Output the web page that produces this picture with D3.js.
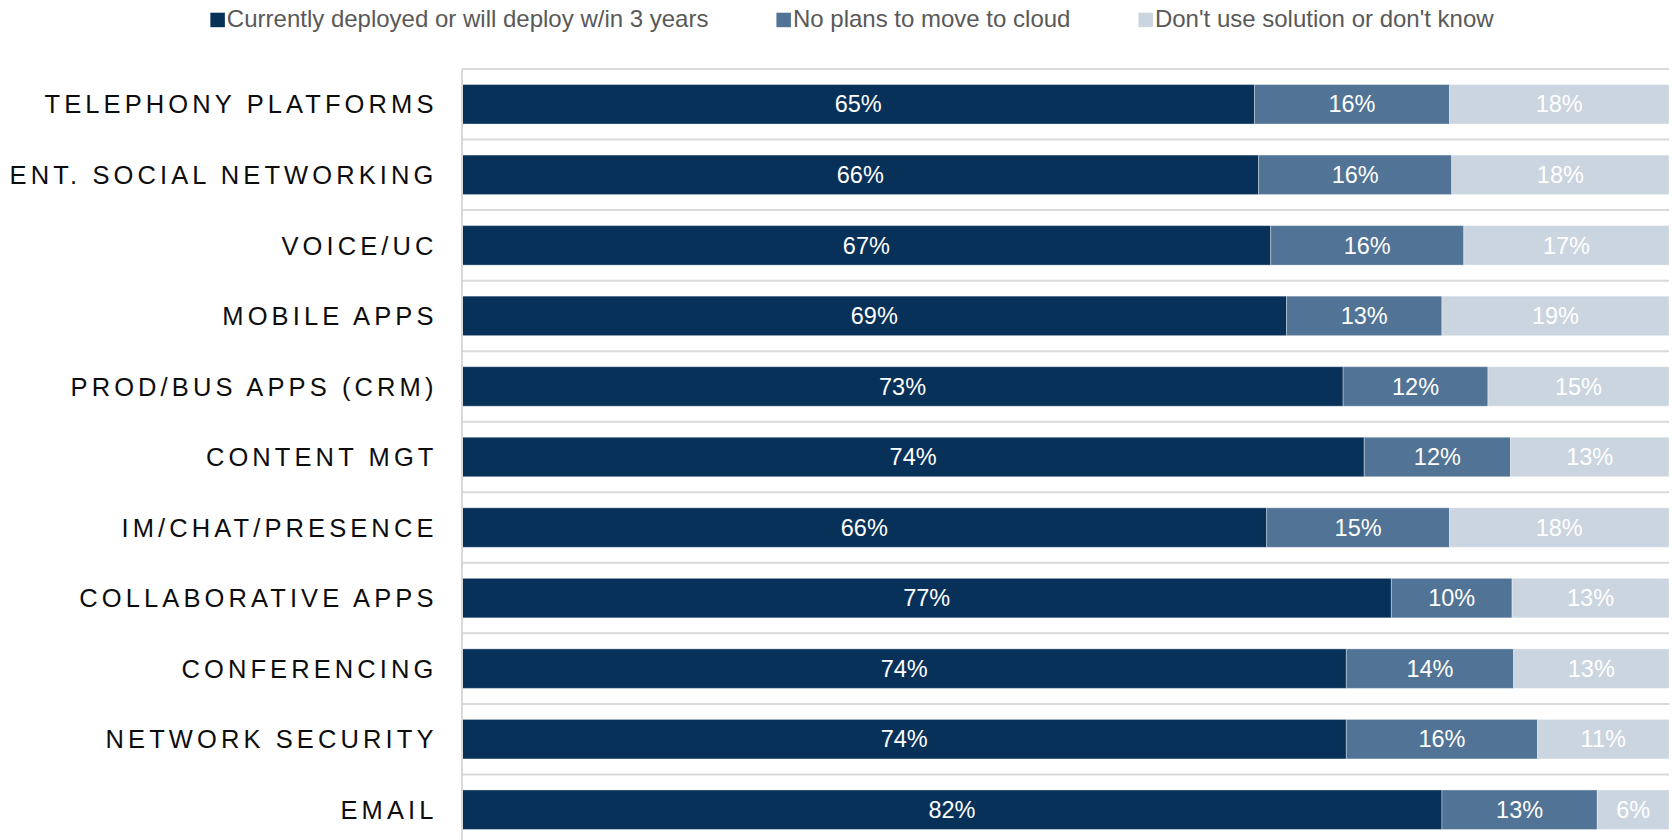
<!DOCTYPE html>
<html>
<head>
<meta charset="utf-8">
<script src="https://cdn.jsdelivr.net/npm/d3@7"></script>
<style>
  html, body { margin: 0; padding: 0; background: #ffffff; }
  svg { display: block; }
</style>
</head>
<body>
<script>
// Cloud adoption by solution area (share of respondents, %)
const categories = [
  "TELEPHONY PLATFORMS",
  "ENT. SOCIAL NETWORKING",
  "VOICE/UC",
  "MOBILE APPS",
  "PROD/BUS APPS (CRM)",
  "CONTENT MGT",
  "IM/CHAT/PRESENCE",
  "COLLABORATIVE APPS",
  "CONFERENCING",
  "NETWORK SECURITY",
  "EMAIL"
];
const deployed  = [65, 66, 67, 69, 73, 74, 66, 77, 74, 74, 82];
const noPlans   = [16, 16, 16, 13, 12, 12, 15, 10, 14, 16, 13];
const dontKnow  = [18, 18, 17, 19, 15, 13, 18, 13, 13, 11, 6];

const seriesNames = [
  "Currently deployed or will deploy w/in 3 years",
  "No plans to move to cloud",
  "Don't use solution or don't know"
];
const seriesColors = ["#08315a", "#517395", "#cbd5df"];

const W = 1674, H = 840;
const plot = { left: 462, right: 1669, top: 69, bottom: 845 };

const svg = d3.select("body").append("svg")
  .attr("width", W).attr("height", H);

// rows for the stack
const keys = ["deployed", "noPlans", "dontKnow"];
const rows = categories.map((c, i) => ({
  category: c,
  deployed: deployed[i],
  noPlans: noPlans[i],
  dontKnow: dontKnow[i]
}));

// 100% stacked layout
const stacked = d3.stack().keys(keys).offset(d3.stackOffsetExpand)(rows);

const x = d3.scaleLinear().domain([0, 1]).range([plot.left, plot.right]);
const y = d3.scaleBand().domain(categories)
  .range([plot.top, plot.bottom])
  .paddingInner(0.44).paddingOuter(0.22);
const color = d3.scaleOrdinal().domain(keys).range(seriesColors);

// horizontal separators at band boundaries
const step = y.step();
const boundaries = categories.map(c => y(c) - (step - y.bandwidth()) / 2)
  .concat([y(categories[categories.length - 1]) + y.bandwidth() + (step - y.bandwidth()) / 2]);
svg.append("g").selectAll("line").data(boundaries).join("line")
  .attr("x1", plot.left).attr("x2", plot.right)
  .attr("y1", d => d).attr("y2", d => d)
  .attr("stroke", "#d9d9d9").attr("stroke-width", 2);

// bars
const layer = svg.append("g").selectAll("g").data(stacked).join("g")
  .attr("fill", d => color(d.key));
layer.selectAll("rect").data(d => d).join("rect")
  .attr("x", d => x(d[0]))
  .attr("width", d => x(d[1]) - x(d[0]))
  .attr("y", d => y(d.data.category))
  .attr("height", y.bandwidth())
  .attr("stroke", "#ffffff").attr("stroke-opacity", 0.35).attr("stroke-width", 1);

// value labels
const labels = svg.append("g")
  .attr("font-family", "'Liberation Sans', Arial, sans-serif")
  .attr("font-size", 23.5)
  .attr("fill", "#ffffff")
  .attr("text-anchor", "middle");
stacked.forEach(s => {
  labels.selectAll(null).data(s).join("text")
    .attr("x", d => (x(d[0]) + x(d[1])) / 2)
    .attr("y", d => y(d.data.category) + y.bandwidth() / 2)
    .attr("dy", "0.35em")
    .text(d => d.data[s.key] + "%");
});

// category axis
svg.append("line")
  .attr("x1", plot.left).attr("x2", plot.left)
  .attr("y1", plot.top).attr("y2", H)
  .attr("stroke", "#d9d9d9").attr("stroke-width", 2);

const yAxis = d3.axisLeft(y).tickSize(0).tickPadding(0);
const axisG = svg.append("g")
  .attr("transform", `translate(${plot.left - 24.5},0)`)
  .call(yAxis);
axisG.select(".domain").remove();
axisG.selectAll("text")
  .attr("font-family", "'Liberation Sans', Arial, sans-serif")
  .attr("font-size", 25.5)
  .attr("letter-spacing", "4.1px")
  .attr("fill", "#0d0d0d")
  .attr("dy", "0.36em");

// legend
const legend = svg.append("g")
  .attr("font-family", "'Liberation Sans', Arial, sans-serif")
  .attr("font-size", 24);
const items = legend.selectAll("g").data(seriesNames).join("g");
items.append("rect")
  .attr("width", 14.5).attr("height", 14.5)
  .attr("y", 12.7)
  .attr("fill", (d, i) => seriesColors[i]);
items.append("text")
  .attr("x", 16.5).attr("y", 27.3)
  .attr("fill", "#595959")
  .text(d => d);
const gap = 68;
const widths = items.nodes().map(n => n.querySelector("text").getComputedTextLength() + 16.5);
const total = d3.sum(widths) + gap * (widths.length - 1);
let start = 852 - total / 2;
items.attr("transform", (d, i) => {
  const t = `translate(${start},0)`;
  start += widths[i] + gap;
  return t;
});
</script>
</body>
</html>
